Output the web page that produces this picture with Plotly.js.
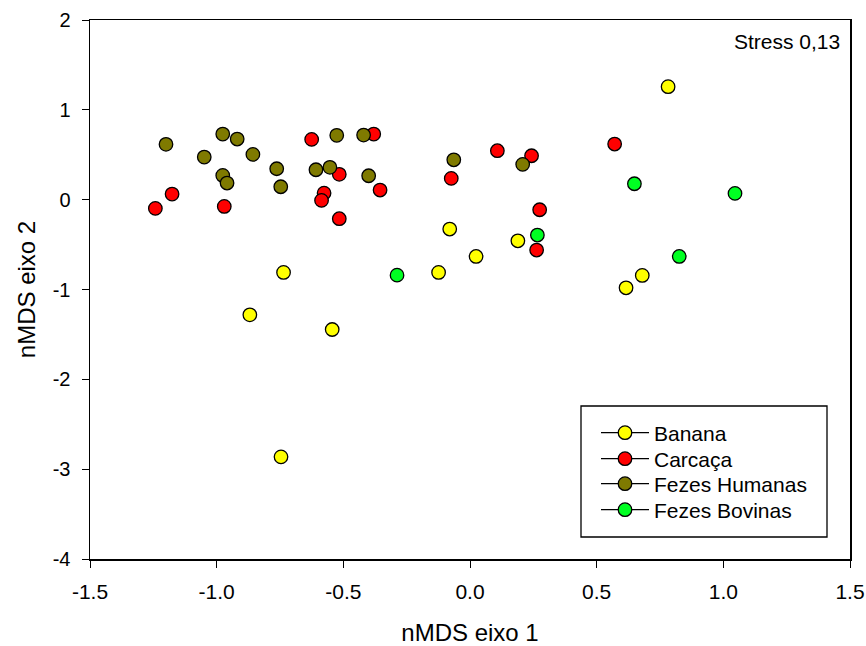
<!DOCTYPE html>
<html>
<head>
<meta charset="utf-8">
<script src="https://cdn.plot.ly/plotly-3.0.1.min.js"></script>
<style>html,body{margin:0;padding:0;background:#fff;}#chart{width:866px;height:646px;}</style>
</head>
<body>
<div id="chart"></div>
<script>
const seriesNames = ["Banana", "Carcaça", "Fezes Humanas", "Fezes Bovinas"];
const seriesColors = ["#ffff00", "#ff0000", "#7f7a00", "#00ff22"];

const bananaX = [0.782, 0.680, 0.616, -0.080, 0.189, 0.024, -0.124, -0.736, -0.869, -0.544, -0.746];
const bananaY = [1.258, -0.843, -0.981, -0.327, -0.458, -0.632, -0.810, -0.810, -1.282, -1.445, -2.863];

const carcacaX = [-1.242, -1.176, -0.970, -0.625, -0.380, -0.516, -0.576, -0.586, -0.516, -0.355, 0.108, 0.243, -0.074, 0.275, 0.263, 0.571];
const carcacaY = [-0.097, 0.062, -0.075, 0.671, 0.730, 0.282, 0.073, -0.008, -0.212, 0.107, 0.545, 0.489, 0.237, -0.112, -0.561, 0.619];

const humanasX = [-1.200, -1.049, -0.976, -0.919, -0.857, -0.976, -0.959, -0.763, -0.747, -0.526, -0.608, -0.553, -0.420, -0.400, -0.064, 0.208];
const humanasY = [0.616, 0.474, 0.730, 0.675, 0.504, 0.270, 0.185, 0.344, 0.144, 0.716, 0.333, 0.360, 0.719, 0.266, 0.444, 0.393];

const bovinasX = [-0.288, 0.266, 0.649, 1.046, 0.826];
const bovinasY = [-0.840, -0.394, 0.177, 0.070, -0.632];

const xTicks = [-1.5, -1.0, -0.5, 0.0, 0.5, 1.0, 1.5];
const xTickText = ["-1.5", "-1.0", "-0.5", "0.0", "0.5", "1.0", "1.5"];
const yTicks = [-4, -3, -2, -1, 0, 1, 2];
const yTickText = ["-4", "-3", "-2", "-1", "0", "1", "2"];
const stressLabel = "Stress 0,13";

const allX = [bananaX, carcacaX, humanasX, bovinasX];
const allY = [bananaY, carcacaY, humanasY, bovinasY];

const font = "Liberation Sans, Arial, sans-serif";
const plotL = 90, plotT = 20, plotW = 760, plotH = 539;
const px2x = p => (p - plotL) / plotW;
const px2y = p => 1 - (p - plotT) / plotH;

const legendRowsPx = [433, 459, 484, 510];
const legendIds = ["legend", "legend2", "legend3", "legend4"];

const traces = [];
for (let i = 0; i < seriesNames.length; i++) {
  traces.push({
    type: "scatter", mode: "markers", x: allX[i], y: allY[i],
    name: seriesNames[i], showlegend: false, hoverinfo: "x+y",
    marker: {size: 13.5, color: seriesColors[i], line: {color: "#000", width: 1.3}}
  });
}
for (let i = 0; i < seriesNames.length; i++) {
  traces.push({
    type: "scatter", mode: "lines+markers", x: [null], y: [null],
    name: seriesNames[i], showlegend: true, legend: legendIds[i],
    line: {color: "#000", width: 1.2},
    marker: {size: 13.5, color: seriesColors[i], line: {color: "#000", width: 1.3}}
  });
}

const layout = {
  width: 866, height: 646,
  margin: {l: 90, r: 16, t: 20, b: 87},
  paper_bgcolor: "#fff", plot_bgcolor: "#fff",
  font: {family: font, size: 19, color: "#000"},
  xaxis: {
    range: [-1.5, 1.5], tickvals: xTicks, ticktext: xTickText,
    showgrid: false, zeroline: false, showline: true, linecolor: "#000", linewidth: 1.5,
    mirror: true, ticks: "outside", ticklen: 7, tickwidth: 1, tickcolor: "#000",
    tickfont: {family: font, size: 21}, ticklabelstandoff: 6,
    title: {text: "nMDS eixo 1", font: {family: font, size: 24}, standoff: 27}
  },
  yaxis: {
    range: [-4, 2], tickvals: yTicks, ticktext: yTickText,
    showgrid: false, zeroline: false, showline: true, linecolor: "#000", linewidth: 1.5,
    mirror: true, ticks: "outside", ticklen: 7, tickwidth: 1, tickcolor: "#000",
    tickfont: {family: font, size: 20}, ticklabelstandoff: 7,
    title: {text: "nMDS eixo 2", font: {family: font, size: 24}, standoff: 10}
  },
  shapes: [{
    type: "rect", xref: "paper", yref: "paper",
    x0: px2x(581), x1: px2x(827), y0: px2y(537), y1: px2y(406),
    line: {color: "#000", width: 1.3}, fillcolor: "#fff", layer: "below"
  }],
  annotations: [{
    text: stressLabel, xref: "paper", yref: "paper", x: 0.99, y: 0.985,
    xanchor: "right", yanchor: "top", showarrow: false,
    font: {family: font, size: 21, color: "#000"}
  }]
};
for (let i = 0; i < legendIds.length; i++) {
  layout[legendIds[i]] = {
    x: px2x(596), y: px2y(legendRowsPx[i]), xanchor: "left", yanchor: "middle",
    bgcolor: "rgba(0,0,0,0)", borderwidth: 0, itemwidth: 48,
    font: {family: font, size: 21}
  };
}

Plotly.newPlot("chart", traces, layout, {displayModeBar: false, staticPlot: true});
</script>
</body>
</html>
